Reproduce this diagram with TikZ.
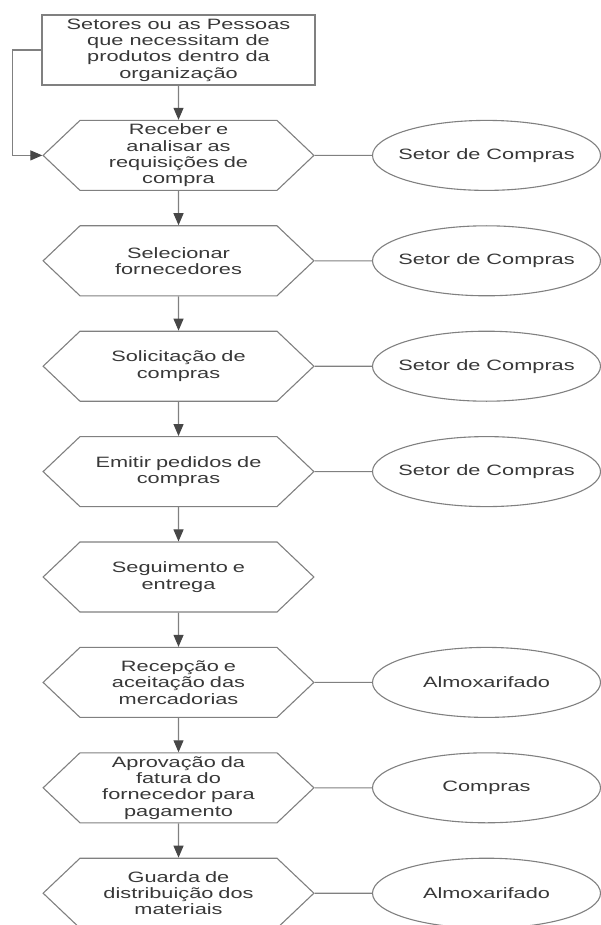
\documentclass[tikz,border=0pt]{standalone}
\usepackage{fontspec}
\newfontfamily\fluxofont[FakeStretch=1.45]{Liberation Sans}
\usetikzlibrary{arrows.meta}
\usetikzlibrary{shapes.geometric,shapes.symbols}
\usetikzlibrary{positioning}

\begin{document}
\begin{tikzpicture}[-,>={Triangle[length=12pt,width=10pt,color=black!72]},x=1pt,y=-1pt,node distance=105.4pt,line width=1.1pt,color=black!50,text=black!78,font=\fluxofont\fontsize{15}{16.3}\selectfont]
 				 \tikzstyle{orig}=[draw, rectangle, minimum width=273pt, minimum height=70pt, inner sep=0pt, align=center]
 				 \tikzstyle{proc}=[draw, signal, signal to=west and east, signal pointer angle=87, minimum height=70pt, text width=197pt, inner xsep=0pt, inner ysep=0pt, align=center]
 				 \tikzstyle{setor}=[draw, ellipse, minimum width=228pt, minimum height=70pt, inner xsep=-9pt, inner ysep=0pt]
 				 \useasboundingbox (0,0) rectangle (601,925);
 					 \node[orig] 			(A) at (178.5,50)          {Setores ou as Pessoas\\que necessitam de\\produtos dentro da\\organização};
 					 \node[proc] 			(B) [below of=A]           {Receber e\\analisar as\\requisições de\\compra};
 					 \node[proc] 			(C) [below of=B]           {Selecionar\\fornecedores};
 					 \node[proc] 			(D) [below of=C]           {Solicitação de\\compras};
 					 \node[proc] 			(E) [below of=D]           {Emitir pedidos de\\compras};
 					 \node[proc] 			(F) [below of=E]           {Seguimento e\\entrega};
 					 \node[proc] 			(G) [below of=F]           {Recepção e\\aceitação das\\mercadorias};
 					 \node[proc] 			(H) [below of=G]           {Aprovação da\\fatura do\\fornecedor para\\pagamento};
 					 \node[proc] 			(I) [below of=H]           {Guarda de\\distribuição dos\\materiais};
 					 \node[setor]         (SB) [right of=B, node distance=308pt] {Setor de Compras};
 					 \node[setor]         (SC) [right of=C, node distance=308pt] {Setor de Compras};
 					 \node[setor]         (SD) [right of=D, node distance=308pt] {Setor de Compras};
 					 \node[setor]         (SE) [right of=E, node distance=308pt] {Setor de Compras};
 					 \node[setor]         (SG) [right of=G, node distance=308pt] {Almoxarifado};
 					 \node[setor]         (SH) [right of=H, node distance=308pt] {Compras};
 					 \node[setor]         (SI) [right of=I, node distance=308pt] {Almoxarifado};
				\path[->]
				(A) edge (B)
				(B) edge (C)
				(C) edge (D)
				(D) edge (E)
				(E) edge (F)
				(F) edge (G)
				(G) edge (H)
				(H) edge (I);
				\path
				(B) edge (SB)
				(C) edge (SC)
				(D) edge (SD)
				(E) edge (SE)
				(G) edge (SG)
				(H) edge (SH)
				(I) edge (SI);
				\draw[->] (A.west) -- ++(-29,0) |- (B.west);
\end{tikzpicture}
\end{document}
